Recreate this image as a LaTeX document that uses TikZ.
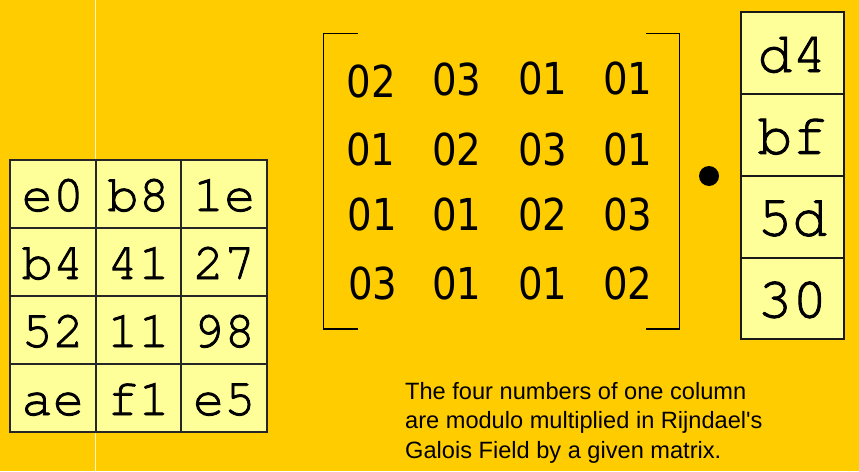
\documentclass[tikz,border=0pt]{standalone}
\usepackage{fontspec}
\newfontfamily\cellfont[FakeBold=1.6]{texgyrecursor-regular.otf}
\newfontfamily\matfont[FakeStretch=0.88]{DejaVu Sans}
\newfontfamily\notefont{Liberation Sans}
\definecolor{bgyellow}{RGB}{255,204,0}
\definecolor{cellyellow}{RGB}{255,255,153}
\definecolor{paleline}{RGB}{255,244,200}
\begin{document}
\begin{tikzpicture}[x=1pt,y=-1pt,
  cellL/.style={draw=black!85, line width=1.8pt, fill=cellyellow,
    minimum width=85.67pt, minimum height=68pt, inner sep=0pt,
    font=\cellfont\fontsize{52}{52}\selectfont, text height=34pt, text depth=0pt},
  cellR/.style={draw=black!90, line width=2pt, fill=cellyellow,
    minimum width=103pt, minimum height=81.8pt, inner sep=0pt,
    font=\cellfont\fontsize{58}{58}\selectfont, text height=38pt, text depth=0pt},
  entry/.style={anchor=base, inner sep=0pt, font=\matfont\fontsize{44}{44}\selectfont},
  bracket/.style={draw=black, line width=1.4pt},
  note/.style={anchor=base west, inner sep=0pt, font=\notefont\fontsize{23.6}{29.5}\selectfont}
]
\fill[bgyellow] (0,0) rectangle (859,471);
\useasboundingbox (0,0) rectangle (859,471);
% pale vertical line
\draw[paleline, line width=1.6pt] (95.5,0) -- (95.5,471);

% left state grid
\foreach \r/\a/\b/\c [count=\i from 0] in {0/e0/b8/1e,1/b4/41/27,2/52/11/98,3/ae/f1/e5}{
  \node[cellL] (L\i a) at (52.83, 194+68*\i) {\a};
  \node[cellL] (L\i b) at (138.5, 194+68*\i) {\b};
  \node[cellL] (L\i c) at (224.17, 194+68*\i) {\c};
}

% matrix entries
\node[entry] (m11) at (371.5,97) {02};
\node[entry] (m12) at (457,95) {03};
\node[entry] (m13) at (543,94) {01};
\node[entry] (m14) at (628,94) {01};
\node[entry] (m21) at (371,165) {01};
\node[entry] (m22) at (457,165) {02};
\node[entry] (m23) at (543,165) {03};
\node[entry] (m24) at (628,165) {01};
\node[entry] (m31) at (372.5,230) {01};
\node[entry] (m32) at (457,230) {01};
\node[entry] (m33) at (543,230) {02};
\node[entry] (m34) at (628,230) {03};
\node[entry] (m41) at (373,299) {03};
\node[entry] (m42) at (457,299) {01};
\node[entry] (m43) at (543,299) {01};
\node[entry] (m44) at (628,299) {02};

% brackets
\draw[bracket] (357.7,33.3) -- (323.5,33.3) -- (323.5,329) -- (357.7,329);
\draw[bracket] (646,33.3) -- (679.3,33.3) -- (679.3,329) -- (646,329);

% multiplication dot
\fill[black] (709,176) circle (10pt);

% right column
\node[cellR] (R0) at (792.3,53) {d4};
\node[cellR] (R1) at (792.3,134.8) {bf};
\node[cellR] (R2) at (792.3,216.6) {5d};
\node[cellR] (R3) at (792.3,298.4) {30};

% note
\node[note] (n1) at (405,399) {The four numbers of one column};
\node[note] (n2) at (405,428.8) {are modulo multiplied in Rijndael's};
\node[note] (n3) at (405,458.3) {Galois Field by a given matrix.};
\end{tikzpicture}
\end{document}
